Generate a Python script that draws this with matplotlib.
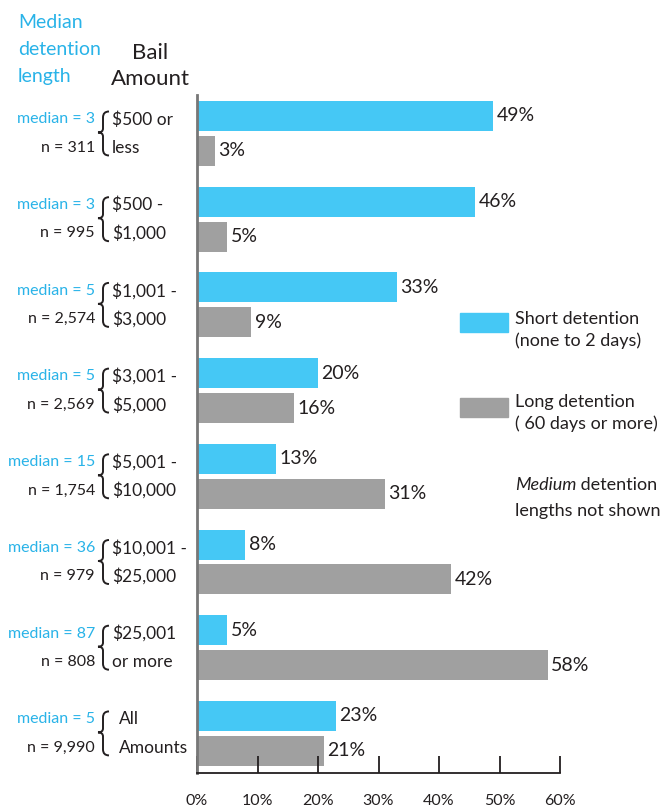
import matplotlib
matplotlib.use("Agg")
import matplotlib.pyplot as plt
import matplotlib.transforms as mtransforms
from matplotlib.patches import Rectangle, PathPatch
from matplotlib.path import Path

# data
bail_labels = ["$500 or\nless", "$500 -\n$1,000", "$1,001 -\n$3,000", "$3,001 -\n$5,000",
               "$5,001 -\n$10,000", "$10,001 -\n$25,000", "$25,001\nor more", "All\nAmounts"]
medians = [3, 3, 5, 5, 15, 36, 87, 5]
counts = ["311", "995", "2,574", "2,569", "1,754", "979", "808", "9,990"]
short_pct = [49, 46, 33, 20, 13, 8, 5, 23]
long_pct = [3, 5, 9, 16, 31, 42, 58, 21]
xticks = [0, 10, 20, 30, 40, 50, 60]

BLUE = "#45c8f5"
BLUE_TXT = "#29b3e8"
GRAY = "#a0a0a0"
DARK = "#231f20"

plt.rcParams['font.family'] = ['Lato', 'DejaVu Sans']

W, H = 664, 811
fig = plt.figure(figsize=(W / 100, H / 100), dpi=100)
ax = fig.add_axes([197 / W, 38 / H, (560 - 197) / W, (773 - 95) / H])

ypos = list(range(len(short_pct)))
off = 0.204
bh = 0.35
ax.barh([y - off for y in ypos], short_pct, height=bh, color=BLUE)
ax.barh([y + off for y in ypos], long_pct, height=bh, color=GRAY)

for y, s, l in zip(ypos, short_pct, long_pct):
    ax.annotate(f"{s}%", (s, y - off), xytext=(2.5, 0), textcoords="offset points",
                va="center", ha="left", fontsize=14, color=DARK)
    ax.annotate(f"{l}%", (l, y + off), xytext=(2.5, 0), textcoords="offset points",
                va="center", ha="left", fontsize=14, color=DARK)

ax.set_xlim(0, 60)
ax.set_ylim(7.462, -0.449)
ax.set_xticks(xticks)
ax.set_xticklabels([f"{t}%" for t in xticks], fontsize=11.5, color=DARK)
ax.set_yticks([])
ax.tick_params(axis="x", direction="in", length=12, width=1.3, color=DARK, pad=15)
for s in ["top", "right"]:
    ax.spines[s].set_visible(False)
ax.spines["bottom"].set_color(DARK)
ax.spines["bottom"].set_linewidth(1.3)
ax.spines["left"].set_color("#777777")
ax.spines["left"].set_linewidth(2)

# left side labels: x in figure pixels, y in data
px = mtransforms.blended_transform_factory(
    mtransforms.Affine2D().scale(1 / W, 1) + fig.transFigure, ax.transData)
line_off = 0.165
for y, lab, m, n in zip(ypos, bail_labels, medians, counts):
    fig.text(95, y - line_off, f"median = {m}", transform=px, ha="right", va="center",
             fontsize=11.5, color=BLUE_TXT)
    fig.text(95, y + line_off, f"n = {n}", transform=px, ha="right", va="center",
             fontsize=11.5, color=DARK)
    top, bot = lab.split("\n")
    xl = 119 if lab.startswith("All") else 112
    fig.text(xl, y - line_off, top, transform=px, ha="left", va="center",
             fontsize=12.5, color=DARK, parse_math=False)
    fig.text(xl, y + line_off, bot, transform=px, ha="left", va="center",
             fontsize=12.5, color=DARK, parse_math=False)

    # curly brace, drawn in pixel space around the group centre
    yc = ax.transData.transform((0, y))[1]
    x0 = 98
    verts = [(x0 + 11, yc + 22), (x0 + 5, yc + 22), (x0 + 5, yc + 16),
             (x0 + 5, yc + 5), (x0 + 5, yc + 1), (x0, yc + 1),
             (x0 + 5, yc + 1), (x0 + 5, yc - 3),
             (x0 + 5, yc - 16), (x0 + 5, yc - 22), (x0 + 11, yc - 22)]
    codes = [Path.MOVETO, Path.CURVE3, Path.CURVE3,
             Path.LINETO, Path.CURVE3, Path.CURVE3,
             Path.CURVE3, Path.CURVE3,
             Path.LINETO, Path.CURVE3, Path.CURVE3]
    fig.add_artist(PathPatch(Path(verts, codes), transform=mtransforms.IdentityTransform(),
                             fill=False, edgecolor=DARK, linewidth=1.4))

# headers
fig.text(18 / W, 1 - 14 / H, "Median\ndetention\nlength", ha="left", va="top",
         fontsize=14, color=BLUE_TXT, linespacing=1.7)
fig.text(150 / W, 1 - 43 / H, "Bail\nAmount", ha="center", va="top",
         fontsize=16, color=DARK, linespacing=1.4)

# legend
fig.add_artist(Rectangle((460 / W, 1 - 332 / H), 48 / W, 19 / H,
                         transform=fig.transFigure, color=BLUE))
fig.add_artist(Rectangle((460 / W, 1 - 417 / H), 48 / W, 19 / H,
                         transform=fig.transFigure, color=GRAY))
fig.text(515 / W, 1 - 311 / H, "Short detention\n(none to 2 days)", ha="left", va="top",
         fontsize=13, color=DARK, linespacing=1.4)
fig.text(515 / W, 1 - 394 / H, "Long detention\n( 60 days or more)", ha="left", va="top",
         fontsize=13, color=DARK, linespacing=1.4)
t = fig.text(515 / W, 1 - 485 / H, "Medium", ha="left", va="center",
             fontsize=13, color=DARK, style="italic")
ax.annotate(" detention", xy=(1, 0.5), xycoords=t, ha="left", va="center",
            fontsize=13, color=DARK)
fig.text(515 / W, 1 - 511 / H, "lengths not shown", ha="left", va="center",
         fontsize=13, color=DARK)

fig.savefig("out.png", dpi=100)
